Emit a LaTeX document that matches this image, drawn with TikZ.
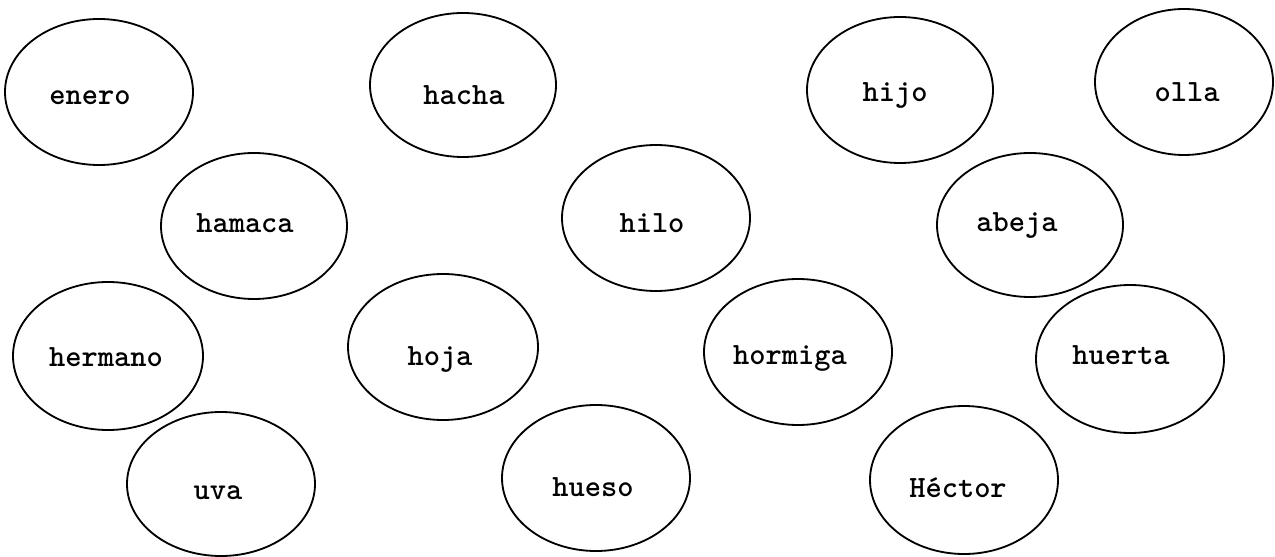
\documentclass[tikz,border=0pt]{standalone}
\usepackage{fontspec}
\usepackage{tikz}
\usetikzlibrary{shapes}

\begin{document}
\begin{tikzpicture}[x=0.025cm,y=-0.025cm,
bubble/.style={
draw,
line width=1.3pt
},
word/.style={anchor=base,inner sep=0pt,font=\ttfamily\bfseries\fontsize{22}{26}\selectfont}]

\useasboundingbox (0,0) rectangle (1275,557);

% first row
\draw[bubble] (99,92) ellipse (94 and 73);
\node (enero) [word] at (90,105) {enero};
\draw[bubble] (463,85) ellipse (93 and 72);
\node (hacha) [word] at (464,105) {hacha};
\draw[bubble] (900,90) ellipse (93 and 73);
\node (hijo) [word] at (895,102) {hijo};
\draw[bubble] (1184,82) ellipse (89 and 73);
\node (olla) [word] at (1187,102) {olla};

% second row
\draw[bubble] (254,226) ellipse (93 and 73);
\node (hamaca) [word] at (245,233) {hamaca};
\draw[bubble] (656,218) ellipse (94 and 73);
\node (hilo) [word] at (652,233) {hilo};
\draw[bubble] (1030,225) ellipse (93 and 72);
\node (abeja) [word] at (1017,232) {abeja};

% third row
\draw[bubble] (108,356) ellipse (95 and 74);
\node (hermano) [word] at (106,366) {hermano};
\draw[bubble] (443,347) ellipse (95 and 73);
\node (hoja) [word] at (440,365) {hoja};
\draw[bubble] (798,352) ellipse (94 and 73);
\node (hormiga) [word] at (790,364) {hormiga};
\draw[bubble] (1130,359) ellipse (94 and 74);
\node (huerta) [word] at (1121,364) {huerta};

% last row
\draw[bubble] (221,484) ellipse (94 and 72);
\node (uva) [word] at (218,499) {uva};
\draw[bubble] (596,478) ellipse (94 and 73);
\node (hueso) [word] at (593,496) {hueso};
\draw[bubble] (964,480) ellipse (94 and 74);
\node (hector) [word] at (958,497) {Héctor};
\end{tikzpicture}
\end{document}
